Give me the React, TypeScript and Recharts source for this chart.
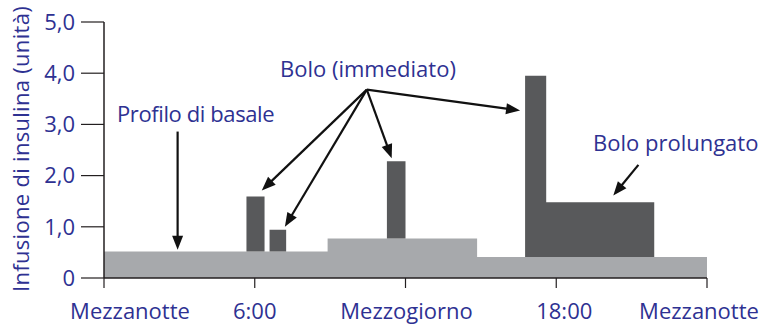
import { ComposedChart, Area, XAxis, YAxis, ReferenceLine, Label } from "recharts";

// time axis in hours since midnight, values in insulin units
const hours = [0, 5.67, 6.39, 6.59, 7.25, 8.9, 11.26, 12, 14.85, 16.76, 17.6, 21.9, 24];
const basal = [0.52, 0.52, 0.52, 0.52, 0.52, 0.77, 0.77, 0.77, 0.41, 0.41, 0.41, 0.41, 0.41];
const bolus = [0, 1.07, 0, 0.42, 0, 0, 1.51, 0, 0, 3.54, 1.07, 0, 0];

const xTicks = [0, 6, 12, 18, 24];
const xLabels = ["Mezzanotte", "6:00", "Mezzogiorno", "18:00", "Mezzanotte"];
const yTicks = [0, 1, 2, 3, 4, 5];
const yLabels = ["0", "1,0", "2,0", "3,0", "4,0", "5,0"];

// annotation arrows, [fromHour, fromValue, toHour, toValue]
const arrows = [
  [10.46, 3.68, 6.28, 1.71],
  [10.46, 3.68, 7.2, 1.0],
  [10.46, 3.68, 11.45, 2.34],
  [10.46, 3.68, 16.56, 3.27],
  [2.93, 2.86, 2.93, 0.55],
  [21.27, 2.21, 20.27, 1.61],
];

const data = hours.map((h, i) => ({ h, basal: basal[i], bolus: bolus[i] }));

const NAVY = "#2e3192";
const FONT = "'Open Sans', sans-serif";
const labelShift = [26, 0, 1, 8, -8];

const Arrow = (props: any) => {
  const { x1, y1, x2, y2 } = props;
  const dx = x2 - x1;
  const dy = y2 - y1;
  const len = Math.sqrt(dx * dx + dy * dy);
  const ux = dx / len;
  const uy = dy / len;
  const head = 14;
  const half = 5.5;
  const bx = x2 - ux * head;
  const by = y2 - uy * head;
  const pts = `${x2},${y2} ${bx - uy * half},${by + ux * half} ${bx},${by} ${bx + uy * half},${by - ux * half}`;
  return (
    <g>
      <line x1={x1} y1={y1} x2={bx + ux * 2} y2={by + uy * 2} stroke="#111" strokeWidth={2.2} />
      <polygon points={pts} fill="#111" />
    </g>
  );
};

const XTick = (props: any) => {
  const { x, y, payload } = props;
  const i = xTicks.indexOf(payload.value);
  return (
    <text x={x + labelShift[i]} y={y + 29} textAnchor="middle" fill={NAVY} fontSize={22} fontFamily={FONT}>
      {xLabels[i]}
    </text>
  );
};

export default function App() {
  return (
    <div style={{ position: "absolute", left: 0, top: 0, width: 763, height: 325, background: "#fff" }}>
      <ComposedChart width={763} height={325} data={data} margin={{ top: 22, right: 56, bottom: 0, left: 0 }}>
        <XAxis
          dataKey="h"
          type="number"
          domain={[0, 24]}
          ticks={xTicks}
          tick={<XTick />}
          tickSize={10}
          height={47}
          stroke="#231f20"
          strokeWidth={1.5}
          tickLine={{ stroke: "#231f20", strokeWidth: 1.2 }}
        />
        <YAxis
          type="number"
          domain={[0, 5]}
          ticks={yTicks}
          tickFormatter={(v: number) => yLabels[yTicks.indexOf(v)]}
          width={104}
          tickSize={23}
          tickMargin={6}
          tick={{ fill: NAVY, fontSize: 22, fontFamily: FONT }}
          stroke="#231f20"
          strokeWidth={1.5}
          tickLine={{ stroke: "#231f20", strokeWidth: 1.2 }}
        >
          <Label
            content={() => (
              <text
                transform="translate(28.5,149) rotate(-90)"
                textAnchor="middle"
                fill={NAVY}
                fontSize={22}
                letterSpacing={0.3}
                fontFamily={FONT}
              >
                Infusione di insulina (unità)
              </text>
            )}
          />
        </YAxis>
        <Area dataKey="basal" stackId="a" type="stepAfter" fill="#a7a9ac" fillOpacity={1} stroke="none" isAnimationActive={false} />
        <Area dataKey="bolus" stackId="a" type="stepAfter" fill="#58595b" fillOpacity={1} stroke="none" isAnimationActive={false} />
        {arrows.map((a, i) => (
          <ReferenceLine
            key={i}
            segment={[{ x: a[0], y: a[1] }, { x: a[2], y: a[3] }]}
            shape={<Arrow />}
          />
        ))}
      </ComposedChart>
      <svg width={763} height={325} style={{ position: "absolute", left: 0, top: 0, pointerEvents: "none" }}>
        <text x={280} y={76.7} fill={NAVY} fontSize={22} fontFamily={FONT}>Bolo (immediato)</text>
        <text x={117} y={121.7} fill={NAVY} fontSize={22} letterSpacing={-0.4} fontFamily={FONT}>Profilo di basale</text>
        <text x={593} y={150.7} fill={NAVY} fontSize={22} fontFamily={FONT}>Bolo prolungato</text>
      </svg>
    </div>
  );
}
